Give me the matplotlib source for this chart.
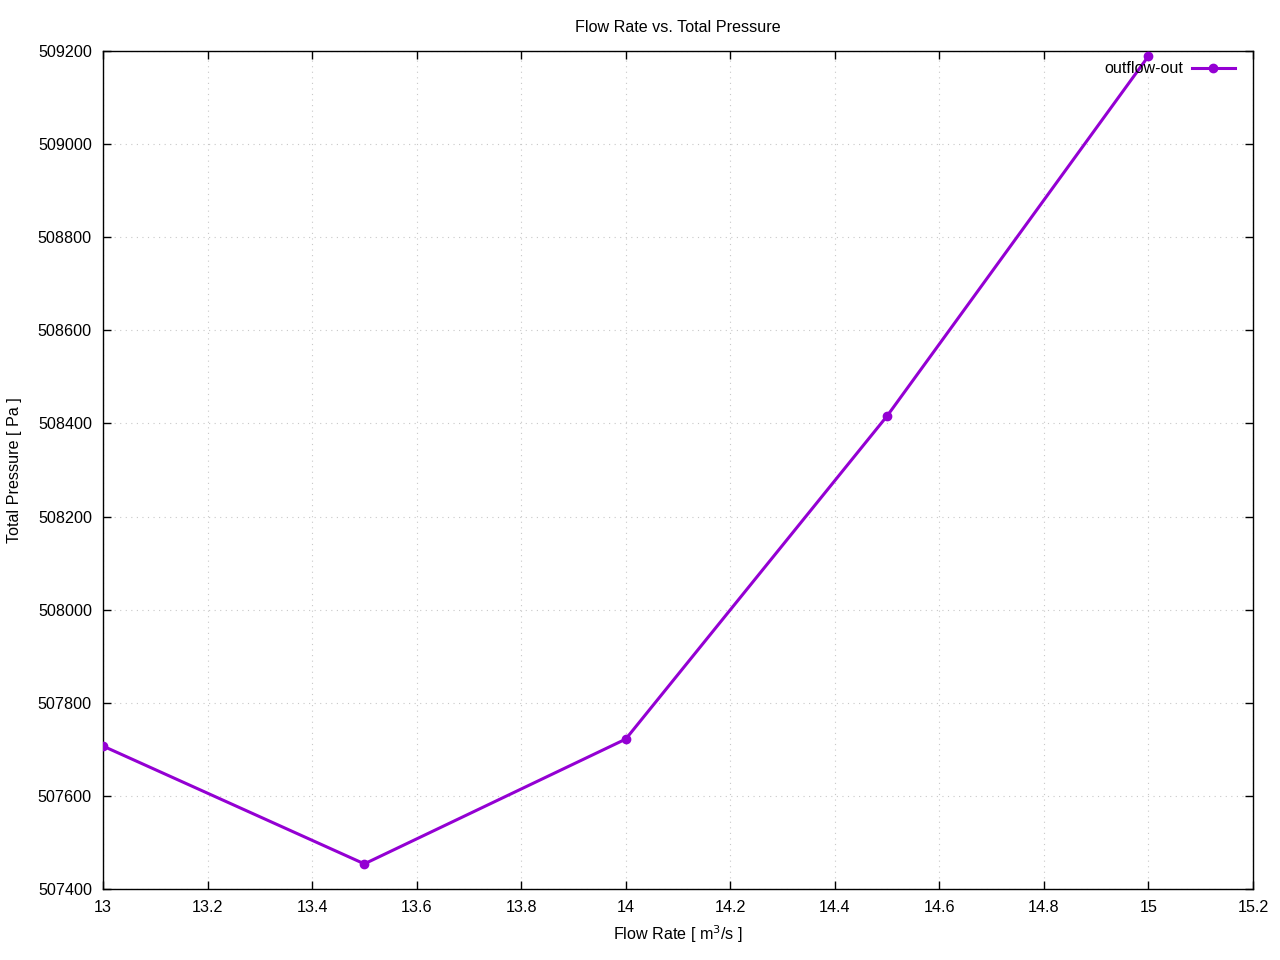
import matplotlib
matplotlib.use("Agg")
import matplotlib.pyplot as plt

flow_rate = [13.0, 13.5, 14.0, 14.5, 15.0]
total_pressure = [507707, 507454, 507722, 508416, 509189]
x_ticks = [13, 13.2, 13.4, 13.6, 13.8, 14, 14.2, 14.4, 14.6, 14.8, 15, 15.2]
x_labels = ["13", "13.2", "13.4", "13.6", "13.8", "14", "14.2", "14.4", "14.6", "14.8", "15", "15.2"]
y_ticks = list(range(507400, 509201, 200))

plt.rcParams["font.family"] = ["Liberation Sans", "DejaVu Sans"]
fs = 11.6

fig = plt.figure(figsize=(12.8, 9.6), dpi=100)
ax = fig.add_axes([103 / 1280, 71 / 960, 1150 / 1280, 838 / 960])

ax.plot(flow_rate, total_pressure, color="#9400d3", lw=2.2, marker="o", ms=6,
        label="outflow-out", zorder=3)

ax.set_xlim(13, 15.2)
ax.set_ylim(507400, 509200)
ax.set_xticks(x_ticks)
ax.set_xticklabels(x_labels)
ax.set_yticks(y_ticks)
ax.set_yticklabels([str(v) for v in y_ticks])
ax.tick_params(direction="in", top=True, right=True, length=6, width=1, pad=8, labelsize=fs)
ax.grid(True, color="#c8c8c8", linestyle=(0, (1, 4)), linewidth=0.8)
for s in ax.spines.values():
    s.set_linewidth(1)

ax.set_title("Flow Rate vs. Total Pressure", fontsize=fs, pad=14)
ax.set_xlabel("Flow Rate [ m$^3$/s ]", fontsize=fs, labelpad=6)
ax.set_ylabel("Total Pressure [ Pa ]", fontsize=fs, labelpad=11)

leg = ax.legend(loc="upper right", frameon=False, markerfirst=False, fontsize=fs,
                handlelength=2.65, handletextpad=0.55, borderaxespad=0.3,
                bbox_to_anchor=(0.994, 1.001))

fig.savefig("out.png", dpi=100)
